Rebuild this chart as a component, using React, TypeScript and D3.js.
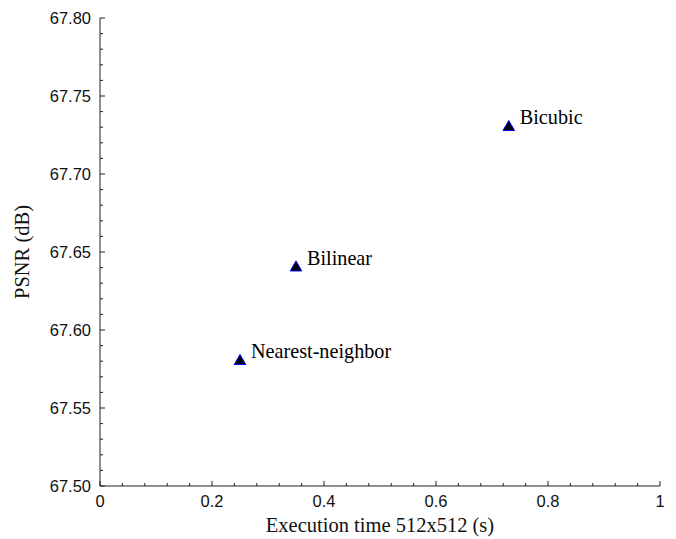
import React from "react";
import * as d3 from "d3";

const methods = ["Nearest-neighbor", "Bilinear", "Bicubic"];
const times = [0.25, 0.35, 0.73];
const psnr = [67.58, 67.64, 67.73];
const xTicks = [0, 0.2, 0.4, 0.6, 0.8, 1];
const yTicks = [67.5, 67.55, 67.6, 67.65, 67.7, 67.75, 67.8];

export default function App() {
  const W = 676, H = 539;
  const x = d3.scaleLinear().domain([0, 1]).range([100, 660]);
  const y = d3.scaleLinear().domain([67.5, 67.8]).range([486, 18]);
  const xMinor = d3.range(0, 1.0001, 0.04);
  const yMinor = d3.range(67.5, 67.8001, 0.01);
  const tri = d3.symbol().type(d3.symbolTriangle).size(58)() as string;
  const sans = "'Liberation Sans', Arial, sans-serif";
  const serif = "'Liberation Serif', 'Times New Roman', serif";
  return (
    <svg width={W} height={H} style={{ position: "absolute", left: 0, top: 0 }}>
      <rect width={W} height={H} fill="#fff" />
      <g stroke="#222" strokeWidth={1}>
        <line x1={x(0)} x2={x(0)} y1={y(67.8)} y2={y(67.5)} />
        <line x1={x(0)} x2={x(1)} y1={y(67.5)} y2={y(67.5)} />
        {yMinor.map((v, i) => (
          <line key={"ym" + i} x1={x(0)} x2={x(0) + (i % 5 === 0 ? 5 : 3)} y1={y(v)} y2={y(v)} />
        ))}
        {xMinor.map((v, i) => (
          <line key={"xm" + i} x1={x(v)} x2={x(v)} y1={y(67.5)} y2={y(67.5) - (i % 5 === 0 ? 5 : 3)} />
        ))}
      </g>
      <g fontFamily={sans} fontSize={16.5} fill="#111">
        {yTicks.map((v) => (
          <text key={"yl" + v} x={x(0) - 9} y={y(v) + 6} textAnchor="end">{v.toFixed(2)}</text>
        ))}
        {xTicks.map((v) => (
          <text key={"xl" + v} x={x(v)} y={y(67.5) + 21} textAnchor="middle">{String(v)}</text>
        ))}
      </g>
      <text x={380} y={532} textAnchor="middle" fontFamily={serif} fontSize={20.5} fill="#111">Execution time 512x512 (s)</text>
      <text transform={`translate(29,252) rotate(-90)`} textAnchor="middle" fontFamily={serif} fontSize={20.5} fill="#111">PSNR (dB)</text>
      {methods.map((m, i) => (
        <g key={m}>
          <path d={tri} transform={`translate(${x(times[i])},${y(psnr[i])})`} fill="#000" stroke="#0000ff" strokeWidth={1} />
          <text x={x(times[i]) + 11} y={y(psnr[i]) - 3} fontFamily={serif} fontSize={20.2} fill="#000">{m}</text>
        </g>
      ))}
    </svg>
  );
}
